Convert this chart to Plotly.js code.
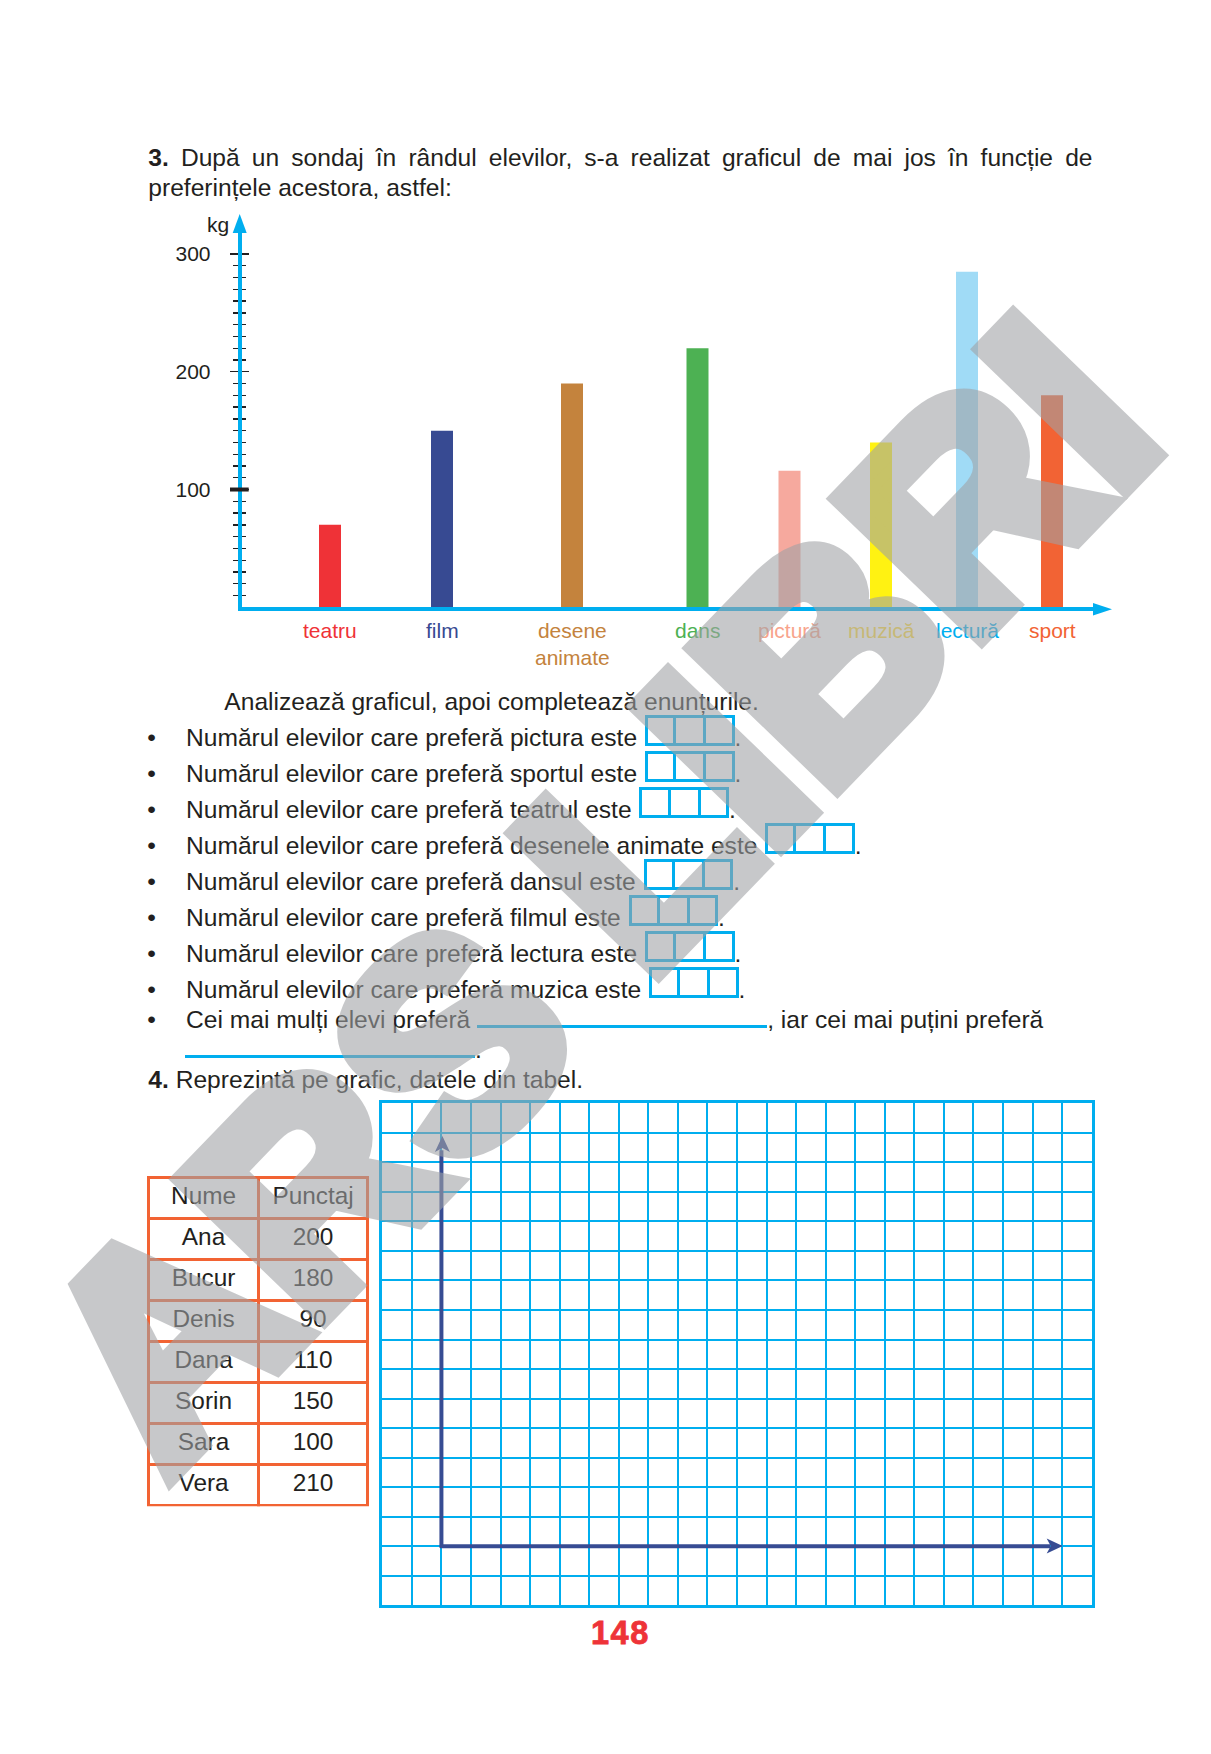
<!DOCTYPE html>
<html><head><meta charset="utf-8">
<script src="https://cdn.plot.ly/plotly-3.0.1.min.js"></script>
<style>
html,body{margin:0;padding:0;background:#fff;}
#page{position:relative;width:1211px;height:1754px;overflow:hidden;background:#fff;}
#plot{position:absolute;left:0;top:0;width:1211px;height:1754px;z-index:1;}
.t{position:absolute;white-space:nowrap;font-family:"Liberation Sans",Arial,Helvetica,sans-serif;font-size:24.6px;line-height:30px;color:#231F20;z-index:2;}
.box{display:inline-block;position:relative;width:83.6px;height:25px;border:3px solid #00AEEF;margin-left:1px;margin-top:-10px;vertical-align:baseline;}
.box i{position:absolute;top:0;bottom:0;width:3px;background:#00AEEF;}
.ul{display:inline-block;height:0;border-bottom:3px solid #00AEEF;vertical-align:baseline;}
#pn{position:absolute;left:591px;top:1612.7px;font-family:"Liberation Sans",Arial,sans-serif;font-weight:bold;font-size:32.5px;line-height:40px;letter-spacing:1.5px;color:#EE3338;-webkit-text-stroke:0.8px #EE3338;z-index:2;}
#wm{position:absolute;left:597px;top:891px;transform:translate(-50%,-50%) rotate(-46deg);font-family:"Liberation Sans",Arial,sans-serif;font-weight:bold;font-size:285px;line-height:1;letter-spacing:2px;color:rgb(160,162,165);-webkit-text-stroke:21px rgb(160,162,165);opacity:.58;white-space:nowrap;z-index:3;pointer-events:none;}
</style></head>
<body>
<div id="page">
<div id="plot"></div>
<div id="pn">148</div>
<div id="wm">ARS LIBRI</div>
</div>
<script>
// ---------- DATA ----------
const categories = ['teatru','film','desene animate','dans','pictură','muzică','lectură','sport'];
const values = [70,150,190,220,116,140,285,180];
const yTickVals = [100,200,300];
const yTickText = ['100','200','300'];
const yUnit = 'kg';
const tableHeader = ['Nume','Punctaj'];
const names = ['Ana','Bucur','Denis','Dana','Sorin','Sara','Vera'];
const scores = [200,180,90,110,150,100,210];

// ---------- LAYOUT / STYLE (not data) ----------
const slotPos = [88.3,200.3,330.3,455.8,547.8,639.3,725.3,810.3];
const barColors = ['#EF3237','#374A92','#C4833D','#4DB153','#F6A99E','#FFF212','#A0DBF6','#F26334'];
const labelColors = ['#EF3237','#374A92','#C4833D','#4DB153','#F8A48C','#FDD835','#00AEEF','#F26334'];
const FONT = '"Liberation Sans", Arial, Helvetica, sans-serif';
const TXT = '#231F20';
const BLUE = '#00AEEF';
const DARK = '#374C93';
const W = 1211, H = 1754;
const fx = x => x / W, fy = y => 1 - y / H;
const P = (x, y) => fx(x).toFixed(5) + ',' + fy(y).toFixed(5);

const minorVals = [];
for (let v = 10; v < 300; v += 10) if (v % 100) minorVals.push(v);

const traces = [
  {type:'bar', x:slotPos, y:values, width:22, marker:{color:barColors, line:{width:0}},
   xaxis:'x', yaxis:'y', hoverinfo:'skip'},
  {type:'scatter', x:[], y:[], xaxis:'x', yaxis:'y3', hoverinfo:'skip'},
  {type:'scatter', x:[], y:[], xaxis:'x2', yaxis:'y2', hoverinfo:'skip'},
  {type:'table', domain:{x:[fx(148.8), fx(368.2)], y:[fy(1506.6), fy(1177.2)]},
   columnwidth:[1,1],
   header:{values:tableHeader, align:'center', height:41.1,
     line:{color:'#F26333', width:3}, fill:{color:'rgba(255,255,255,0)'},
     font:{family:FONT, size:24.4, color:TXT}},
   cells:{values:[names, scores], align:'center', height:41.1,
     line:{color:'#F26333', width:3}, fill:{color:'rgba(255,255,255,0)'},
     font:{family:FONT, size:24.4, color:TXT}}}
];

const annotations = [
  {xref:'paper', yref:'paper', x:fx(231), y:fy(224), xanchor:'right', yanchor:'middle',
   text:yUnit, showarrow:false, font:{family:FONT, size:21, color:TXT}}
];
categories.forEach((c, i) => {
  annotations.push({xref:'x', yref:'y', x:slotPos[i], y:0, yanchor:'top', xanchor:'center',
    yshift:-10, text:c.replace(' ', '<br>'), showarrow:false,
    font:{family:FONT, size:21, color:labelColors[i]}});
});

const shapes = [
  {type:'path', xref:'paper', yref:'paper', path:'M'+P(232.7,233)+'L'+P(239.7,214)+'L'+P(246.7,233)+'Z',
   fillcolor:BLUE, line:{width:0}},
  {type:'path', xref:'paper', yref:'paper', path:'M'+P(1093,603.1)+'L'+P(1112,609.3)+'L'+P(1093,615.5)+'Z',
   fillcolor:BLUE, line:{width:0}},
  {type:'line', xref:'paper', yref:'y', x0:fx(230), x1:fx(248.7), y0:100, y1:100, line:{color:TXT, width:4}},
  {type:'line', xref:'x2', yref:'y2', x0:0, x1:0, y0:-0.05, y1:13.41, line:{color:DARK, width:4}},
  {type:'line', xref:'x2', yref:'y2', x0:-0.05, x1:20.59, y0:0, y1:0, line:{color:DARK, width:4}},
  {type:'path', xref:'paper', yref:'paper',
   path:'M'+P(434.9,1152)+'L'+P(442.4,1136)+'L'+P(449.9,1152)+'L'+P(442.4,1148)+'Z',
   fillcolor:DARK, line:{width:0}},
  {type:'path', xref:'paper', yref:'paper',
   path:'M'+P(1046.7,1538.5)+'L'+P(1062.7,1546)+'L'+P(1046.7,1553.5)+'L'+P(1050.7,1546)+'Z',
   fillcolor:DARK, line:{width:0}}
];

const layout = {
  width:W, height:H, margin:{l:0,r:0,t:0,b:0,pad:0}, autosize:false,
  paper_bgcolor:'rgba(0,0,0,0)', plot_bgcolor:'rgba(0,0,0,0)', showlegend:false,
  font:{family:FONT, color:TXT},
  xaxis:{domain:[fx(241.7), fx(1095)], range:[0,853.3], showline:true, linecolor:BLUE, linewidth:4,
    ticks:'', showticklabels:false, showgrid:false, zeroline:false, fixedrange:true, anchor:'y'},
  yaxis:{domain:[fy(607.3), fy(233)], range:[0,317.8], showline:true, linecolor:BLUE, linewidth:4,
    tickmode:'array', tickvals:yTickVals, ticktext:yTickText, ticks:'outside', ticklen:8, tickwidth:1.3,
    tickcolor:TXT, ticklabelstandoff:15, tickfont:{family:FONT, size:21, color:TXT},
    minor:{tickmode:'array', tickvals:minorVals, ticks:'outside', ticklen:5, tickwidth:1.3, tickcolor:TXT, showgrid:false},
    showgrid:false, zeroline:false, fixedrange:true, anchor:'x'},
  yaxis3:{overlaying:'y', side:'left', anchor:'x', range:[0,317.8], showline:false,
    tickmode:'array', tickvals:yTickVals, ticks:'inside', ticklen:7, tickwidth:1.3, tickcolor:TXT,
    showticklabels:false,
    minor:{tickmode:'array', tickvals:minorVals, ticks:'inside', ticklen:4.5, tickwidth:1.3, tickcolor:TXT, showgrid:false},
    showgrid:false, zeroline:false, fixedrange:true},
  xaxis2:{domain:[fx(382.3), fx(1091.7)], range:[-2,22], anchor:'y2', tick0:0, dtick:1,
    showgrid:true, gridcolor:BLUE, gridwidth:2, showline:true, mirror:true, linecolor:BLUE, linewidth:3,
    ticks:'', showticklabels:false, zeroline:false, fixedrange:true},
  yaxis2:{domain:[fy(1605.4), fy(1103.2)], range:[-2,15], anchor:'x2', tick0:0, dtick:1,
    showgrid:true, gridcolor:BLUE, gridwidth:2, showline:true, mirror:true, linecolor:BLUE, linewidth:3,
    ticks:'', showticklabels:false, zeroline:false, fixedrange:true},
  annotations:annotations, shapes:shapes
};

Plotly.newPlot('plot', traces, layout, {staticPlot:true, displayModeBar:false});

// ---------- worksheet text ----------
const page = document.getElementById('page');
function T(left, baseline, html, extra) {
  const d = document.createElement('div');
  d.className = 't';
  d.style.left = left + 'px';
  d.style.top = (baseline - 23.5) + 'px';
  d.innerHTML = html;
  if (extra) Object.assign(d.style, extra);
  page.appendChild(d);
  return d;
}
T(148.3, 166.8, '<b>3.</b> După un sondaj în rândul elevilor, s-a realizat graficul de mai jos în funcție de',
  {width:'944.2px', textAlign:'justify', textAlignLast:'justify'});
T(148.3, 196.8, 'preferințele acestora, astfel:');
T(224.3, 710.5, 'Analizează graficul, apoi completează enunțurile.');

const BOX = '<span class="box"><i style="left:25.1px"></i><i style="left:55.1px"></i></span>.';
const subjects = ['pictura','sportul','teatrul','desenele animate','dansul','filmul','lectura','muzica'];
subjects.forEach((s, i) => {
  const b = 746.1 + 36 * i;
  T(147.3, b, '•');
  T(186, b, 'Numărul elevilor care preferă ' + s + ' este ' + BOX);
});
T(147.3, 1028.1, '•');
T(186, 1028.1, 'Cei mai mulți elevi preferă <span class="ul" style="width:290px"></span>, iar cei mai puțini preferă');
T(185, 1058.8, '<span class="ul" style="width:290px"></span>.');
T(148.3, 1088.3, '<b>4.</b> Reprezintă pe grafic, datele din tabel.');
</script>
</body></html>
